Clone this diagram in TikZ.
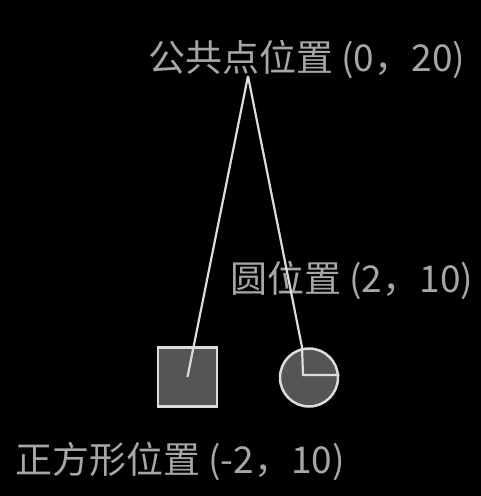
\documentclass[tikz,border=0pt]{standalone}
\usepackage{fontspec}
\newfontfamily\cjk{Noto Sans CJK SC}
\definecolor{bg}{HTML}{000000}
\definecolor{txt}{HTML}{A6A6A6}
\definecolor{ln}{HTML}{DCDCDC}
\definecolor{body}{HTML}{555555}
\begin{document}
\begin{tikzpicture}[x=1pt,y=-1pt,
  lbl/.style={anchor=west,inner sep=0pt,text=txt,font=\cjk\fontsize{37}{40}\selectfont},
  string/.style={draw=ln,line width=2.2pt},
  bodyshape/.style={draw=ln,fill=body,line width=2.5pt,inner sep=0pt}]
\fill[bg] (0,0) rectangle (481,496);
\useasboundingbox (0,0) rectangle (481,496);
\node[lbl] (top) at (148,59) {公共点位置 (0，20)};
\node[lbl] (clbl) at (230,280) {圆位置 (2，10)};
\node[lbl] (slbl) at (15,461) {正方形位置 (-2，10)};
\coordinate (apex) at (248,76);
\node[bodyshape,rectangle,minimum size=59pt] (sq) at (187.5,377) {};
\node[bodyshape,circle,minimum size=58pt] (ci) at (309,377.5) {};
\coordinate (cpin) at (303,375);
\coordinate (ctop) at (302,347);
\draw[string] (apex) -- (sq.center);
\draw[string] (apex) -- (ctop) -- (cpin) -- (ci.east |- cpin);
\end{tikzpicture}
\end{document}
